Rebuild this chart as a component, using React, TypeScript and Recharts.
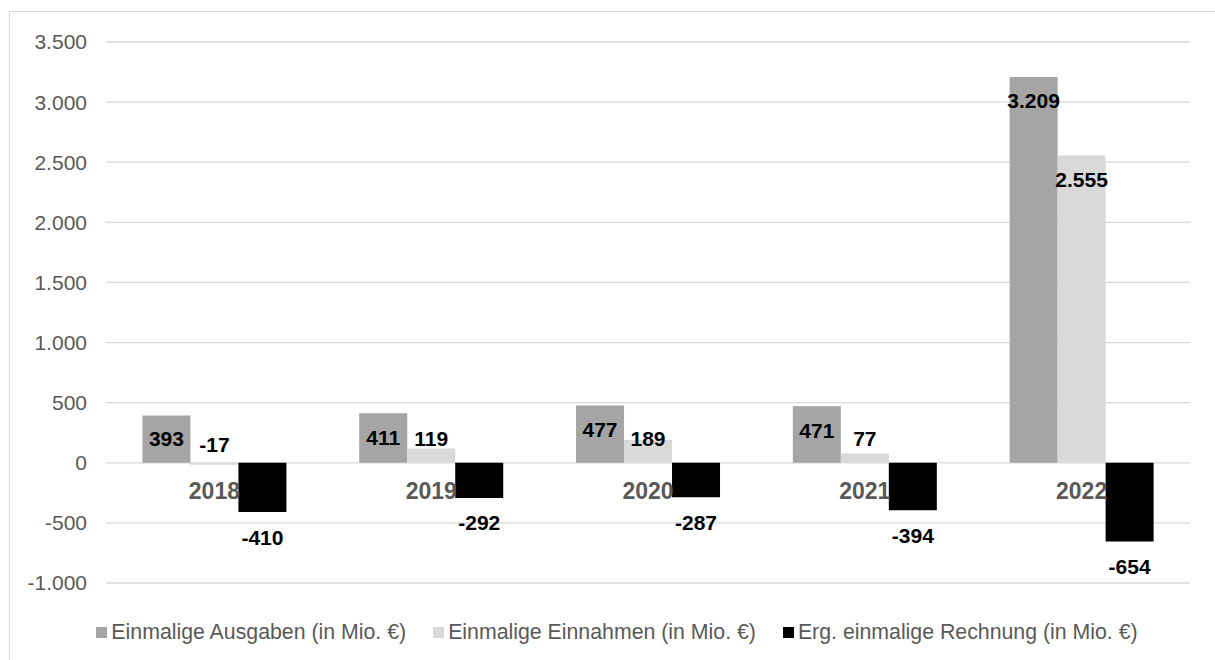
import React from 'react';
import { BarChart, Bar, XAxis, YAxis, CartesianGrid, Legend, LabelList } from 'recharts';

const categories = ['2018', '2019', '2020', '2021', '2022'];
const ausgaben = [393, 411, 477, 471, 3209];
const einnahmen = [-17, 119, 189, 77, 2555];
const ergebnis = [-410, -292, -287, -394, -654];
const yTicks = [-1000, -500, 0, 500, 1000, 1500, 2000, 2500, 3000, 3500];

const seriesNames = [
  'Einmalige Ausgaben (in Mio. €)',
  'Einmalige Einnahmen (in Mio. €)',
  'Erg. einmalige Rechnung (in Mio. €)',
];
const seriesColors = ['#a5a5a5', '#d9d9d9', '#000000'];

const data = categories.map((c, i) => ({
  year: c,
  a: ausgaben[i],
  e: einnahmen[i],
  r: ergebnis[i],
}));

const FONT = '"Liberation Sans", Arial, sans-serif';
const fmt = (v: number) => v.toLocaleString('de-DE');

const topLabel = (withCategory: boolean) => (props: any) => {
  const { x, y, width, height, value, index } = props;
  const zeroY = y + height;
  const top = Math.min(y, y + height);
  const cx = x + width / 2;
  const cy = value < 0 ? zeroY - 18 : Math.min(top + 24, zeroY - 24);
  return (
    <g>
      {withCategory && (
        <text
          x={x + width * 1.5}
          y={zeroY + 28}
          textAnchor="middle"
          dominantBaseline="central"
          fontFamily={FONT}
          fontWeight="bold"
          fontSize={23}
          fill="#595959"
        >
          {categories[index]}
        </text>
      )}
      <text
        x={cx}
        y={cy}
        textAnchor="middle"
        dominantBaseline="central"
        fontFamily={FONT}
        fontWeight="bold"
        fontSize={21}
        fill="#000000"
      >
        {fmt(value)}
      </text>
    </g>
  );
};

const bottomLabel = (props: any) => {
  const { x, y, width, height, value } = props;
  const bottom = Math.max(y, y + height);
  return (
    <text
      x={x + width / 2}
      y={bottom + 25}
      textAnchor="middle"
      dominantBaseline="central"
      fontFamily={FONT}
      fontWeight="bold"
      fontSize={21}
      fill="#000000"
    >
      {fmt(value)}
    </text>
  );
};

const LegendContent = () => (
  <div
    style={{
      height: 61,
      boxSizing: 'border-box',
      paddingTop: 37,
      paddingLeft: 44,
      display: 'flex',
      justifyContent: 'center',
      alignItems: 'center',
      fontFamily: FONT,
      fontSize: 21.3,
      color: '#595959',
      whiteSpace: 'nowrap',
    }}
  >
    {seriesNames.map((n, i) => (
      <div key={n} style={{ display: 'flex', alignItems: 'center', marginLeft: i === 0 ? 0 : 27 }}>
        <span
          style={{
            display: 'inline-block',
            width: 11,
            height: 11,
            background: seriesColors[i],
            marginRight: 4,
          }}
        />
        <span>{n}</span>
      </div>
    ))}
  </div>
);

export default function App() {
  return (
    <div style={{ position: 'absolute', left: 0, top: 0, width: 1215, height: 660, background: '#fff', overflow: 'hidden' }}>
      <div
        style={{
          position: 'absolute',
          left: 9,
          top: 11,
          width: 1300,
          height: 800,
          borderLeft: '1.5px solid #d9d9d9',
          borderTop: '1.5px solid #d9d9d9',
        }}
      />
      <BarChart
        width={1215}
        height={660}
        data={data}
        margin={{ top: 42, right: 25, bottom: 16, left: 0 }}
        barGap={0}
        barCategoryGap="16.8%"
      >
        <CartesianGrid horizontal vertical={false} stroke="#d9d9d9" strokeWidth={1.3} />
        <XAxis dataKey="year" hide />
        <YAxis
          width={106}
          domain={[-1000, 3500]}
          ticks={yTicks}
          interval={0}
          axisLine={false}
          tickLine={false}
          tickMargin={13}
          tickFormatter={fmt}
          tick={{ fill: '#595959', fontSize: 21, fontFamily: FONT }}
        />
        <Legend verticalAlign="bottom" content={<LegendContent />} wrapperStyle={{ height: 61 }} />
        <Bar dataKey="a" name={seriesNames[0]} fill={seriesColors[0]} isAnimationActive={false}>
          <LabelList dataKey="a" content={topLabel(true)} />
        </Bar>
        <Bar dataKey="e" name={seriesNames[1]} fill={seriesColors[1]} isAnimationActive={false}>
          <LabelList dataKey="e" content={topLabel(false)} />
        </Bar>
        <Bar dataKey="r" name={seriesNames[2]} fill={seriesColors[2]} isAnimationActive={false}>
          <LabelList dataKey="r" content={bottomLabel} />
        </Bar>
      </BarChart>
    </div>
  );
}
